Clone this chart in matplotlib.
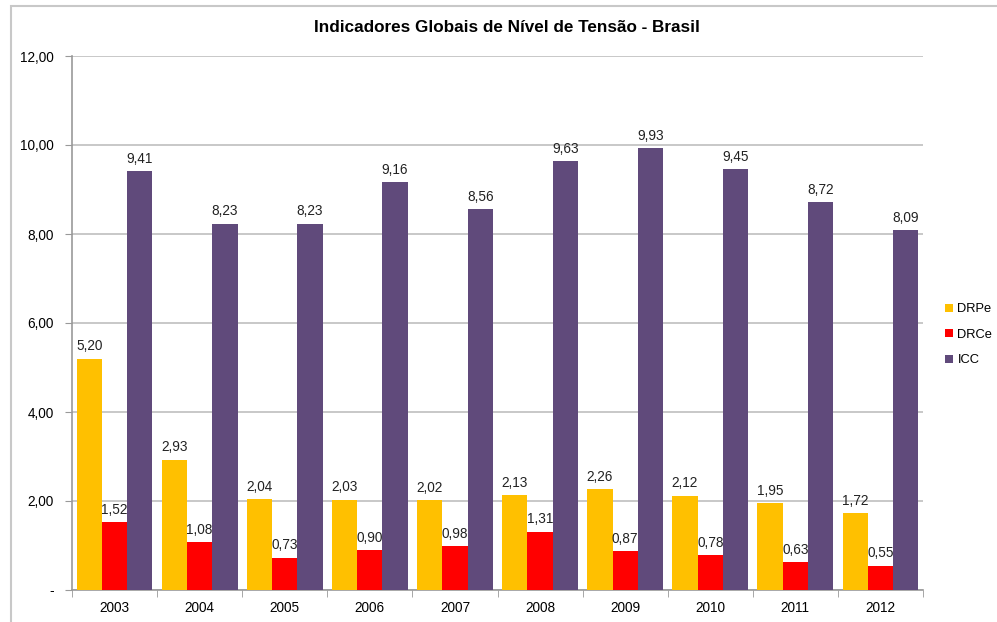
import matplotlib.pyplot as plt
import numpy as np
from matplotlib.patches import Rectangle

plt.rcParams['font.family'] = ['Liberation Sans', 'DejaVu Sans']

# Dados
anos = ['2003', '2004', '2005', '2006', '2007', '2008', '2009', '2010', '2011', '2012']
drpe = [5.20, 2.93, 2.04, 2.03, 2.02, 2.13, 2.26, 2.12, 1.95, 1.72]
drce = [1.52, 1.08, 0.73, 0.90, 0.98, 1.31, 0.87, 0.78, 0.63, 0.55]
icc = [9.41, 8.23, 8.23, 9.16, 8.56, 9.63, 9.93, 9.45, 8.72, 8.09]
series = ['DRPe', 'DRCe', 'ICC']
cores = ['#FFC000', '#FF0000', '#604A7B']
yticks = [0, 2, 4, 6, 8, 10, 12]

fig = plt.figure(figsize=(9.97, 6.22), dpi=100)
# moldura externa do gráfico
fig.patches.append(Rectangle((11 / 997, -0.1), 1.2, (622 - 6) / 622 + 0.1,
                             transform=fig.transFigure, fill=False,
                             edgecolor='#c8c8c8', linewidth=1.5))

ax = fig.add_axes([72 / 997, 1 - 590 / 622, (923 - 72) / 997, (590 - 56) / 622])

x = np.arange(len(anos))
w = 0.297
for i, (vals, nome, cor) in enumerate(zip([drpe, drce, icc], series, cores)):
    pos = x + (i - 1) * w
    ax.bar(pos, vals, width=w, color=cor, label=nome, zorder=3)
    for p, v in zip(pos, vals):
        ax.text(p, v + 0.12, f'{v:.2f}'.replace('.', ','), ha='center', va='bottom',
                fontsize=9.8, color='#222222', zorder=4)

ax.set_xlim(-0.5, len(anos) - 0.5)
ax.set_ylim(0, 12)
ax.set_yticks(yticks)
ax.set_yticklabels(['-' if t == 0 else f'{t:.2f}'.replace('.', ',') for t in yticks],
                   fontsize=9.8)
ax.yaxis.grid(True, color='#bfbfbf', linewidth=1.2, zorder=0)
ax.set_xticks(x)
ax.set_xticklabels(anos, fontsize=9.8)
ax.tick_params(axis='x', length=0, pad=8)
ax.set_xticks(np.arange(-0.5, len(anos)), minor=True)
ax.tick_params(axis='x', which='minor', length=5, color='#999999')
ax.tick_params(axis='y', length=5, color='#999999', pad=8)
for s in ['top', 'right']:
    ax.spines[s].set_visible(False)
for s in ['left', 'bottom']:
    ax.spines[s].set_color('#999999')
    ax.spines[s].set_linewidth(1.2)

fig.text(507 / 997, 1 - 28 / 622, 'Indicadores Globais de Nível de Tensão - Brasil',
         fontsize=12.3, fontweight='bold', ha='center', va='center')

fig.legend(loc='upper left', bbox_to_anchor=(940 / 997, 1 - 298 / 622), frameon=False,
           fontsize=9.3, handlelength=0.6, handleheight=0.6, handletextpad=0.35,
           labelspacing=1.05, borderaxespad=0)

fig.savefig('out.png', dpi=100)
